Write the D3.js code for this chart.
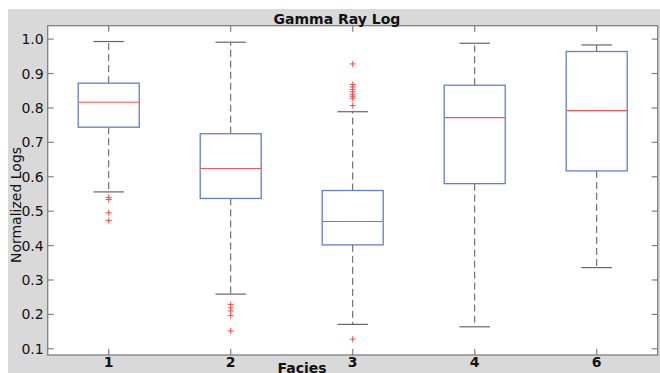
<!DOCTYPE html>
<html>
<head>
<meta charset="utf-8">
<script src="https://cdn.jsdelivr.net/npm/d3@7"></script>
<style>
  html, body { margin: 0; padding: 0; background: #fff; }
  svg { display: block; }
</style>
</head>
<body>
<div id="chart"></div>
<script>
// box summaries, one entry per facies
const facies = ["1", "2", "3", "4", "6"];
const whiskerLow = [0.556, 0.259, 0.171, 0.164, 0.336];
const q1 = [0.744, 0.537, 0.402, 0.580, 0.617];
const median = [0.8165, 0.624, 0.470, 0.772, 0.792];
const q3 = [0.872, 0.725, 0.560, 0.866, 0.964];
const whiskerHigh = [0.993, 0.991, 0.789, 0.988, 0.983];
const outliers = [
    [0.540, 0.534, 0.495, 0.473],
    [0.229, 0.219, 0.210, 0.197, 0.152],
    [0.928, 0.868, 0.861, 0.854, 0.847, 0.840, 0.834, 0.828, 0.807, 0.128],
    [],
    []
];
const yTicks = [0.1, 0.2, 0.3, 0.4, 0.5, 0.6, 0.7, 0.8, 0.9, 1.0];

(function() {
    const width = 660, height = 373;
    const margin = {left: 47.7, right: 2.3, top: 25.7, bottom: 18};
    const font = "'DejaVu Sans', Verdana, sans-serif";

    let svg = d3.select("#chart")
        .append("svg")
        .attr("width", width)
        .attr("height", height);

    // gray figure background
    svg.append("rect")
        .attr("x", 8).attr("y", 9)
        .attr("width", width - 8).attr("height", height - 9)
        .attr("fill", "#d9d9d9");

    let x = d3.scaleLinear()
        .domain([0.5, 5.5])
        .range([margin.left, width - margin.right]);

    let y = d3.scaleLinear()
        .domain([0.082, 1.039])
        .range([height - margin.bottom, margin.top]);

    let plotW = x.range()[1] - x.range()[0];
    let plotH = y.range()[0] - y.range()[1];

    svg.append("rect")
        .attr("x", margin.left).attr("y", margin.top)
        .attr("width", plotW).attr("height", plotH)
        .attr("fill", "#fff");

    let idx = facies.map((d, i) => i);
    let pos = i => x(i + 1);
    let unit = x(2) - x(1);

    let g = svg.append("g");

    // whiskers (dashed)
    g.selectAll(".whisker-up")
        .data(idx).enter()
        .append("line")
        .attr("x1", pos).attr("x2", pos)
        .attr("y1", i => y(q3[i])).attr("y2", i => y(whiskerHigh[i]))
        .attr("stroke", "#555").attr("stroke-width", 1)
        .attr("stroke-dasharray", "7,4");

    g.selectAll(".whisker-down")
        .data(idx).enter()
        .append("line")
        .attr("x1", pos).attr("x2", pos)
        .attr("y1", i => y(q1[i])).attr("y2", i => y(whiskerLow[i]))
        .attr("stroke", "#555").attr("stroke-width", 1)
        .attr("stroke-dasharray", "7,4");

    // whisker caps
    [whiskerHigh, whiskerLow].forEach(arr => {
        g.selectAll(null)
            .data(idx).enter()
            .append("line")
            .attr("x1", i => pos(i) - unit * 0.125)
            .attr("x2", i => pos(i) + unit * 0.125)
            .attr("y1", i => y(arr[i])).attr("y2", i => y(arr[i]))
            .attr("stroke", "#666").attr("stroke-width", 1.2);
    });

    // boxes
    g.selectAll(".box")
        .data(idx).enter()
        .append("rect")
        .attr("x", i => pos(i) - unit * 0.25)
        .attr("width", unit * 0.5)
        .attr("y", i => y(q3[i]))
        .attr("height", i => y(q1[i]) - y(q3[i]))
        .attr("fill", "none")
        .attr("stroke", "#5f7fd0").attr("stroke-width", 1.3);

    // medians
    g.selectAll(".median")
        .data(idx).enter()
        .append("line")
        .attr("x1", i => pos(i) - unit * 0.25)
        .attr("x2", i => pos(i) + unit * 0.25)
        .attr("y1", i => y(median[i])).attr("y2", i => y(median[i]))
        .attr("stroke", "#ff5050").attr("stroke-width", 1.2);

    // outliers as red plus signs
    let pts = [];
    outliers.forEach((arr, i) => arr.forEach(v => pts.push({i: i, v: v})));
    g.selectAll(".outlier")
        .data(pts).enter()
        .append("path")
        .attr("d", d => {
            let cx = pos(d.i), cy = y(d.v), s = 3;
            return `M ${cx - s},${cy} L ${cx + s},${cy} M ${cx},${cy - s} L ${cx},${cy + s}`;
        })
        .attr("stroke", "#ff4a4a").attr("stroke-width", 1);

    // frame and inward ticks
    let axisColor = "#808080";
    let tickLen = 6;
    let xLeft = margin.left, xRight = width - margin.right;
    let yTop = margin.top, yBottom = height - margin.bottom;

    svg.append("rect")
        .attr("x", xLeft).attr("y", yTop)
        .attr("width", plotW).attr("height", plotH)
        .attr("fill", "none")
        .attr("stroke", axisColor).attr("stroke-width", 1.3);

    let ticks = svg.append("g").attr("stroke", axisColor).attr("stroke-width", 1.2);
    yTicks.forEach(t => {
        ticks.append("line").attr("x1", xLeft).attr("x2", xLeft + tickLen)
            .attr("y1", y(t)).attr("y2", y(t));
        ticks.append("line").attr("x1", xRight).attr("x2", xRight - tickLen)
            .attr("y1", y(t)).attr("y2", y(t));
    });
    idx.forEach(i => {
        ticks.append("line").attr("x1", pos(i)).attr("x2", pos(i))
            .attr("y1", yBottom).attr("y2", yBottom - tickLen);
        ticks.append("line").attr("x1", pos(i)).attr("x2", pos(i))
            .attr("y1", yTop).attr("y2", yTop + tickLen);
    });

    // tick labels
    svg.append("g").selectAll("text")
        .data(yTicks).enter()
        .append("text")
        .attr("x", xLeft - 4)
        .attr("y", t => y(t))
        .attr("dy", "0.36em")
        .attr("text-anchor", "end")
        .attr("font-family", font)
        .attr("font-size", 14)
        .attr("fill", "#111")
        .text(d3.format(".1f"));

    svg.append("g").selectAll("text")
        .data(idx).enter()
        .append("text")
        .attr("x", pos)
        .attr("y", 366.5)
        .attr("text-anchor", "middle")
        .attr("font-family", font)
        .attr("font-size", 14)
        .attr("font-weight", "bold")
        .attr("fill", "#111")
        .text(i => facies[i]);

    // titles
    svg.append("text")
        .attr("x", 337).attr("y", 23.5)
        .attr("text-anchor", "middle")
        .attr("font-family", font)
        .attr("font-size", 14)
        .attr("font-weight", "bold")
        .attr("fill", "#111")
        .text("Gamma Ray Log");

    svg.append("text")
        .attr("x", 302).attr("y", 372.5)
        .attr("text-anchor", "middle")
        .attr("font-family", font)
        .attr("font-size", 14)
        .attr("font-weight", "bold")
        .attr("fill", "#111")
        .text("Facies");

    svg.append("text")
        .attr("transform", "translate(20.5,205) rotate(-90)")
        .attr("text-anchor", "middle")
        .attr("font-family", font)
        .attr("font-size", 14)
        .attr("fill", "#111")
        .text("Normalized Logs");
})();
</script>
</body>
</html>
